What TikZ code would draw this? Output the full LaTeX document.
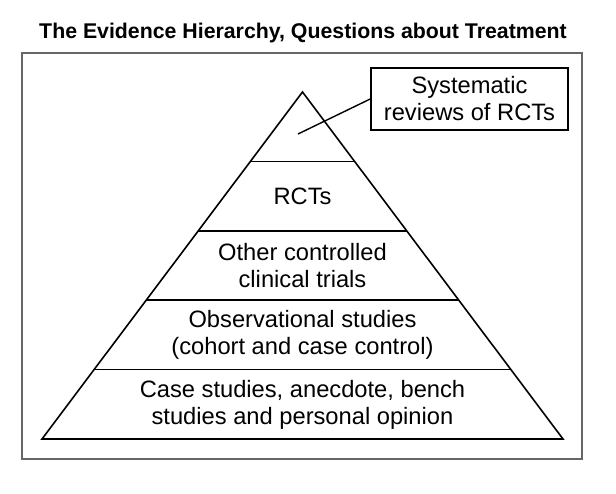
\documentclass[tikz,border=0pt]{standalone}
\usepackage{fontspec}
\setmainfont{Liberation Sans}
\usetikzlibrary{calc}
\tikzset{
  layertext/.style={align=center, inner sep=0pt, font=\fontsize{23.7}{27}\selectfont},
  pyr/.style={line width=1.6pt, line join=miter},
}
\begin{document}
\begin{tikzpicture}[x=1pt,y=-1pt]
	\useasboundingbox (0,0) rectangle (616,494);
	\node[anchor=base, font=\bfseries\fontsize{21.3}{25}\selectfont] (title) at (303,38.5) {The Evidence Hierarchy, Questions about Treatment};
	%%%%%%%%%%%%%%%%%%%%%%%%%%%%%%%%
	\draw[line width=1.4pt, black!60] (22,53) rectangle (582,459);
	%%%%%%%%%%%%%%%%%%%%%%%%%%%%%%%%
	\coordinate (apex) at (302.5,92);
	\coordinate (bl) at (42,439);
	\coordinate (br) at (563,439);
	\draw[pyr] (apex) -- (br) -- (bl) -- cycle;
	\foreach \i in {1,...,4}
		\draw[pyr] ($(apex)!\i/5!(bl)$) -- ($(apex)!\i/5!(br)$);
	%%%%%%%%%%%%%%%%%%%%%%%%%%%%%%%%
	\node[layertext] (rct) at (302.5,196) {RCTs};
	\node[layertext] (occt) at (302.5,265.5) {Other controlled\\clinical trials};
	\node[layertext] (obs) at (302.5,335) {Observational studies\\(cohort and case control)};
	\node[layertext] (case) at (302.5,404.5) {Case studies, anecdote, bench\\studies and personal opinion};
	%%%%%%%%%%%%%%%%%%%%%%%%%%%%%%%%
	\node[layertext, draw, line width=1.6pt, minimum width=197pt, minimum height=62pt] (sr) at (469.5,99) {Systematic\\reviews of RCTs};
	\coordinate (srend) at (298,134);
	\draw[line width=1.4pt] (sr.west) -- (srend);
\end{tikzpicture}
\end{document}
